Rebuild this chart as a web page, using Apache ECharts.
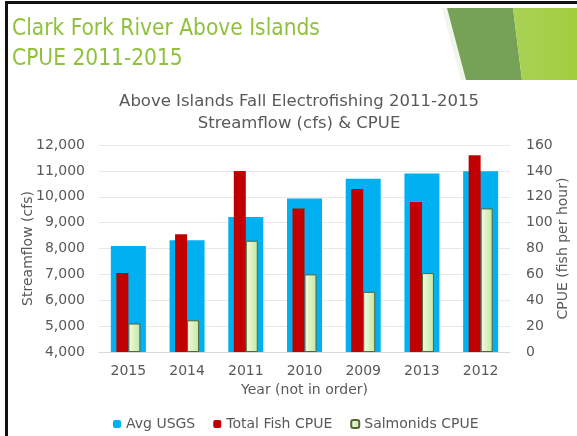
<!DOCTYPE html>
<html>
<head>
<meta charset="utf-8">
<script src="https://cdn.jsdelivr.net/npm/echarts@6/dist/echarts.min.js"></script>
<style>
  html, body { margin: 0; padding: 0; background: #fff; }
  #chart { width: 577px; height: 436px; }
</style>
</head>
<body>
<div id="chart"></div>
<script>
// years as they appear on the slide (not sorted)
const years = ['2015', '2014', '2011', '2010', '2009', '2013', '2012']
const avgUsgs = [8100, 8320, 9220, 9930, 10700, 10900, 10990]
const totalFishCpue = [61, 91, 140, 111, 126, 116, 152]
const salmonidsCpue = [22, 24.5, 86, 60, 46.5, 61, 111]

const flowTicks = { min: 4000, max: 12000, interval: 1000 }
const cpueTicks = { min: 0, max: 160, interval: 20 }

const font = 'DejaVu Sans, sans-serif'
const slideFont = 'DejaVu Sans Condensed, DejaVu Sans, sans-serif'
const grey = '#595959'

const chart = echarts.init(document.getElementById('chart'))

const salmonFill = new echarts.graphic.LinearGradient(0, 0, 1, 0, [
  { offset: 0, color: '#f2fae6' },
  { offset: 1, color: '#c4e89c' }
])

const option = {
  backgroundColor: '#fff',
  animation: false,
  textStyle: { fontFamily: font },
  title: {
    text: 'Above Islands Fall Electrofishing 2011-2015\nStreamflow (cfs) & CPUE',
    left: 294,
    textAlign: 'center',
    top: 86,
    textStyle: { color: grey, fontSize: 16.5, fontWeight: 'normal', lineHeight: 22, fontFamily: font }
  },
  legend: {
    left: 108,
    top: 412,
    itemWidth: 8,
    itemHeight: 8,
    itemGap: 18,
    textStyle: { color: grey, fontSize: 14, fontFamily: font },
    data: ['Avg USGS', 'Total Fish CPUE', 'Salmonids CPUE']
  },
  grid: { left: 99, right: 67, top: 145, bottom: 84, outerBoundsMode: 'none' },
  xAxis: [
    {
      type: 'category',
      data: years,
      name: 'Year (not in order)',
      nameLocation: 'middle',
      nameGap: 31,
      nameMoveOverlap: false,
      nameTextStyle: { color: grey, fontSize: 14, fontFamily: font },
      axisTick: { show: false },
      axisLine: { lineStyle: { color: '#d9d9d9' } },
      axisLabel: { color: grey, fontSize: 14, margin: 12 }
    },
    {
      type: 'category',
      data: years,
      show: false
    }
  ],
  yAxis: [
    {
      type: 'value',
      min: flowTicks.min,
      max: flowTicks.max,
      interval: flowTicks.interval,
      name: 'Streamflow (cfs)',
      nameLocation: 'middle',
      nameGap: 64,
      nameMoveOverlap: false,
      nameTextStyle: { color: grey, fontSize: 14, fontFamily: font },
      axisLine: { show: false },
      axisTick: { show: false },
      axisLabel: {
        color: grey, fontSize: 14, margin: 14,
        formatter: v => v.toLocaleString('en-US')
      },
      splitLine: { lineStyle: { color: '#e8e8e8' } }
    },
    {
      type: 'value',
      min: cpueTicks.min,
      max: cpueTicks.max,
      interval: cpueTicks.interval,
      name: 'CPUE (fish per hour)',
      nameLocation: 'middle',
      nameGap: 46,
      nameMoveOverlap: false,
      nameTextStyle: { color: grey, fontSize: 14, fontFamily: font },
      axisLine: { show: false },
      axisTick: { show: false },
      axisLabel: { color: grey, fontSize: 14, margin: 16 },
      splitLine: { show: false }
    }
  ],
  series: [
    {
      name: 'Avg USGS',
      type: 'bar',
      xAxisIndex: 0,
      yAxisIndex: 0,
      barWidth: 35,
      itemStyle: { color: '#00b0f0' },
      data: avgUsgs
    },
    {
      name: 'Total Fish CPUE',
      type: 'bar',
      xAxisIndex: 1,
      yAxisIndex: 1,
      barWidth: 12,
      barGap: '0%',
      itemStyle: { color: '#c00000' },
      data: totalFishCpue
    },
    {
      name: 'Salmonids CPUE',
      type: 'bar',
      xAxisIndex: 1,
      yAxisIndex: 1,
      barWidth: 12,
      barGap: '0%',
      itemStyle: { color: salmonFill, borderColor: '#55663a', borderWidth: 1 },
      data: salmonidsCpue
    }
  ],
  graphic: [
    // slide frame
    { type: 'rect', shape: { x: 5, y: 1, width: 572, height: 3 }, style: { fill: '#111' }, silent: true },
    { type: 'rect', shape: { x: 5, y: 1, width: 3, height: 435 }, style: { fill: '#111' }, silent: true },
    // facet decoration top right
    { type: 'polygon', shape: { points: [[442, 8], [447, 8], [466, 80], [461, 80]] }, style: { fill: '#f1f5ec' }, silent: true },
    { type: 'polygon', shape: { points: [[447, 8], [513, 8], [522, 80], [466, 80]] }, style: { fill: '#76a257' }, silent: true },
    {
      type: 'polygon',
      shape: { points: [[513, 8], [577, 8], [577, 80], [522, 80]] },
      style: {
        fill: new echarts.graphic.LinearGradient(0, 0, 1, 0, [
          { offset: 0, color: '#a9d257' },
          { offset: 1, color: '#a2cd3c' }
        ])
      },
      silent: true
    },
    // slide title
    {
      type: 'text',
      left: 12,
      top: 14,
      style: {
        text: 'Clark Fork River Above Islands\nCPUE 2011-2015',
        fill: '#8fc23a',
        fontSize: 22.5,
        lineHeight: 30,
        fontFamily: slideFont
      },
      silent: true
    }
  ]
}

chart.setOption(option)
</script>
</body>
</html>
